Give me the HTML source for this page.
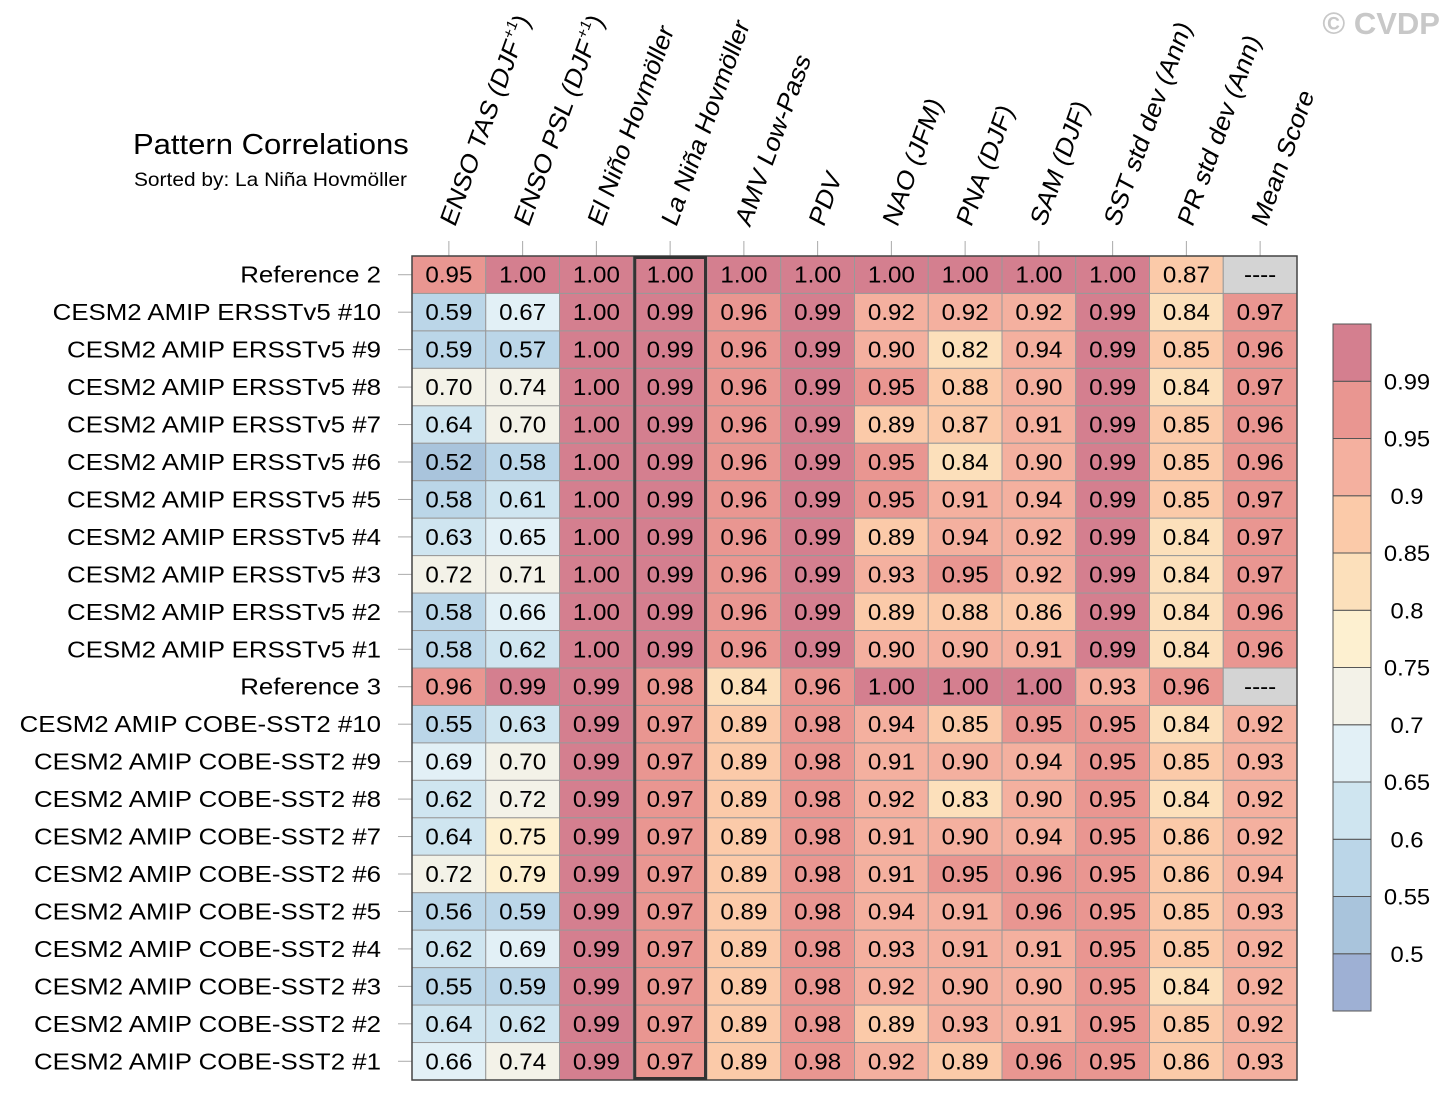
<!DOCTYPE html>
<html><head><meta charset="utf-8"><style>
html,body{margin:0;padding:0;background:#fff;}
svg{display:block;font-family:"Liberation Sans",Arial,sans-serif;}
</style></head><body>
<svg id="chart" width="1450" height="1101" viewBox="0 0 1450 1101" xmlns="http://www.w3.org/2000/svg">
<text x="0" y="0" font-size="29" transform="translate(133,154) scale(1.07,1)">Pattern Correlations</text>
<text x="0" y="0" font-size="19" transform="translate(134,186) scale(1.1,1)">Sorted by: La Niña Hovmöller</text>
<text x="1440" y="34" font-size="31" font-weight="bold" fill="#c8c8c8" text-anchor="end">© CVDP</text>
<g id="cols"></g><g id="rows"></g><g id="cells"></g><g id="cbar"></g>
</svg>
<script>
const columns=["ENSO TAS (DJF","ENSO PSL (DJF","El Niño Hovmöller","La Niña Hovmöller","AMV Low-Pass","PDV","NAO (JFM)","PNA (DJF)","SAM (DJF)","SST std dev (Ann)","PR std dev (Ann)","Mean Score"];
const rowNames=["Reference 2","CESM2 AMIP ERSSTv5 #10","CESM2 AMIP ERSSTv5 #9","CESM2 AMIP ERSSTv5 #8","CESM2 AMIP ERSSTv5 #7","CESM2 AMIP ERSSTv5 #6","CESM2 AMIP ERSSTv5 #5","CESM2 AMIP ERSSTv5 #4","CESM2 AMIP ERSSTv5 #3","CESM2 AMIP ERSSTv5 #2","CESM2 AMIP ERSSTv5 #1","Reference 3","CESM2 AMIP COBE-SST2 #10","CESM2 AMIP COBE-SST2 #9","CESM2 AMIP COBE-SST2 #8","CESM2 AMIP COBE-SST2 #7","CESM2 AMIP COBE-SST2 #6","CESM2 AMIP COBE-SST2 #5","CESM2 AMIP COBE-SST2 #4","CESM2 AMIP COBE-SST2 #3","CESM2 AMIP COBE-SST2 #2","CESM2 AMIP COBE-SST2 #1"];
const values=[
[0.95,1.00,1.00,1.00,1.00,1.00,1.00,1.00,1.00,1.00,0.87,null],
[0.59,0.67,1.00,0.99,0.96,0.99,0.92,0.92,0.92,0.99,0.84,0.97],
[0.59,0.57,1.00,0.99,0.96,0.99,0.90,0.82,0.94,0.99,0.85,0.96],
[0.70,0.74,1.00,0.99,0.96,0.99,0.95,0.88,0.90,0.99,0.84,0.97],
[0.64,0.70,1.00,0.99,0.96,0.99,0.89,0.87,0.91,0.99,0.85,0.96],
[0.52,0.58,1.00,0.99,0.96,0.99,0.95,0.84,0.90,0.99,0.85,0.96],
[0.58,0.61,1.00,0.99,0.96,0.99,0.95,0.91,0.94,0.99,0.85,0.97],
[0.63,0.65,1.00,0.99,0.96,0.99,0.89,0.94,0.92,0.99,0.84,0.97],
[0.72,0.71,1.00,0.99,0.96,0.99,0.93,0.95,0.92,0.99,0.84,0.97],
[0.58,0.66,1.00,0.99,0.96,0.99,0.89,0.88,0.86,0.99,0.84,0.96],
[0.58,0.62,1.00,0.99,0.96,0.99,0.90,0.90,0.91,0.99,0.84,0.96],
[0.96,0.99,0.99,0.98,0.84,0.96,1.00,1.00,1.00,0.93,0.96,null],
[0.55,0.63,0.99,0.97,0.89,0.98,0.94,0.85,0.95,0.95,0.84,0.92],
[0.69,0.70,0.99,0.97,0.89,0.98,0.91,0.90,0.94,0.95,0.85,0.93],
[0.62,0.72,0.99,0.97,0.89,0.98,0.92,0.83,0.90,0.95,0.84,0.92],
[0.64,0.75,0.99,0.97,0.89,0.98,0.91,0.90,0.94,0.95,0.86,0.92],
[0.72,0.79,0.99,0.97,0.89,0.98,0.91,0.95,0.96,0.95,0.86,0.94],
[0.56,0.59,0.99,0.97,0.89,0.98,0.94,0.91,0.96,0.95,0.85,0.93],
[0.62,0.69,0.99,0.97,0.89,0.98,0.93,0.91,0.91,0.95,0.85,0.92],
[0.55,0.59,0.99,0.97,0.89,0.98,0.92,0.90,0.90,0.95,0.84,0.92],
[0.64,0.62,0.99,0.97,0.89,0.98,0.89,0.93,0.91,0.95,0.85,0.92],
[0.66,0.74,0.99,0.97,0.89,0.98,0.92,0.89,0.96,0.95,0.86,0.93]];
const levels=[0.5,0.55,0.6,0.65,0.7,0.75,0.8,0.85,0.9,0.95,0.99];
const levelLabels=["0.5","0.55","0.6","0.65","0.7","0.75","0.8","0.85","0.9","0.95","0.99"];
const palette=["#9eb0d4","#a9c4dc","#bbd6e8","#cfe5f0","#e2f0f6","#f3f2e8","#fdf0d0","#fce0bb","#fbcaa9","#f4b09f","#e99691","#d47f8f"];

const NS="http://www.w3.org/2000/svg";
const X0=412,X1=1297,Y0=256,Y1=1080;
const cw=(X1-X0)/columns.length, rh=(Y1-Y0)/rowNames.length;
const xPos=i=>X0+i*cw, yPos=j=>Y0+j*rh;
function mk(t,a,p){const e=document.createElementNS(NS,t);for(const k in a)e.setAttribute(k,a[k]);p.appendChild(e);return e;}
function colorFor(v){if(v===null)return "#d4d4d4";let k=0;for(let i=0;i<levels.length;i++){if(v>=levels[i]-1e-9)k=i+1;}return palette[k];}

const gc=document.getElementById('cols'),gr=document.getElementById('rows'),gce=document.getElementById('cells'),gb=document.getElementById('cbar');
columns.forEach((c,i)=>{
  const cx=xPos(i)+cw/2;
  const tk=mk('line',{x1:cx,y1:241,x2:cx,y2:256,stroke:'#aaa','stroke-width':1},gc);
  
  
  const t=mk('text',{x:0,y:0,'font-size':25,transform:`translate(${cx+6},${228}) rotate(-70) skewX(-8) scale(1.05,1)`},gc);
  
  
  t.textContent=c;
  if(i<2){const s=mk('tspan',{'font-size':15,dy:-11},t);s.textContent='+1';const s2=mk('tspan',{dy:11},t);s2.textContent=')';}
});
rowNames.forEach((r,j)=>{
  const cy=yPos(j)+rh/2;
  const tk=mk('line',{x1:398,y1:cy,x2:412,y2:cy,stroke:'#aaa','stroke-width':1},gr);
  
  
  const t=mk('text',{x:0,y:0,'font-size':23.5,'text-anchor':'end',transform:`translate(381,${cy+8}) scale(1.1,1)`},gr);
  
  
  t.textContent=r;
});
values.forEach((row,j)=>row.forEach((v,i)=>{
  const r=mk('rect',{x:xPos(i),y:yPos(j),width:cw,height:rh,fill:colorFor(v),stroke:'#999','stroke-width':1},gce);
  
  
  const t=mk('text',{x:0,y:0,'font-size':23,'text-anchor':'middle',transform:`translate(${xPos(i)+cw/2},${yPos(j)+rh/2+8}) scale(1.05,1)`},gce);
  
  
  t.textContent=v===null?'----':v.toFixed(2);
}));
const fr=mk('rect',{x:X0,y:Y0,width:X1-X0,height:Y1-Y0,fill:'none',stroke:'#444','stroke-width':1.5},gce);


const hl=mk('rect',{x:xPos(3)+1.5,y:Y0+1.5,width:cw-3,height:Y1-Y0-3,fill:'none',stroke:'#333','stroke-width':3},gce);


const CB0=324,CB1=1011,bh=(CB1-CB0)/palette.length;
palette.forEach((c,k)=>{
  const r=mk('rect',{x:1333,y:CB1-(k+1)*bh,width:38,height:bh,fill:c,stroke:'#555','stroke-width':1},gb);
  
  
});
levelLabels.forEach((l,k)=>{
  const t=mk('text',{x:0,y:0,'font-size':22,'text-anchor':'middle',transform:`translate(1407,${CB1-(k+1)*bh+8}) scale(1.08,1)`},gb);
  
  
  t.textContent=l;
});
</script>
</body></html>
